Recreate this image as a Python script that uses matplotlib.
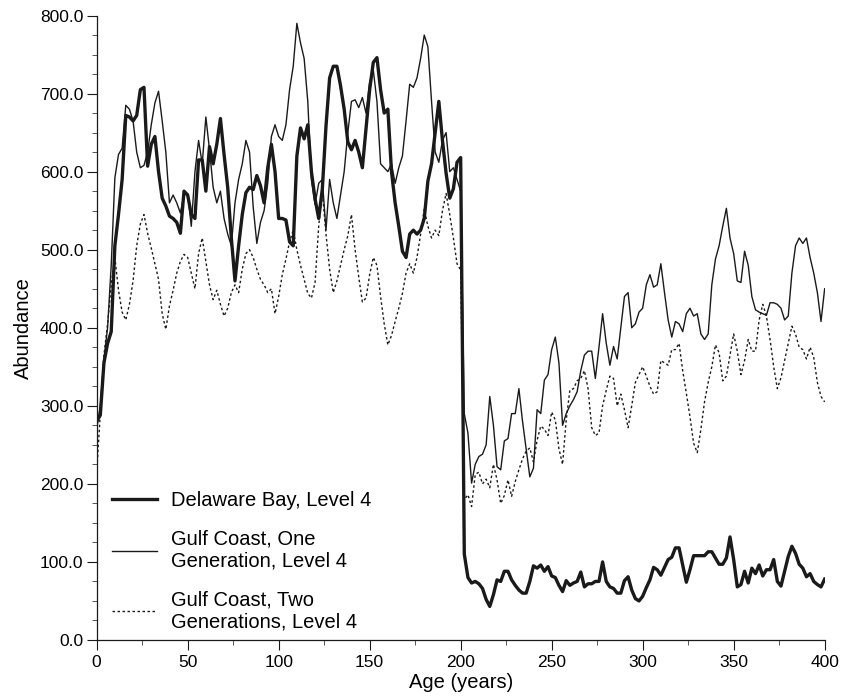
import numpy as np
import matplotlib.pyplot as plt
from matplotlib.ticker import MultipleLocator, FormatStrFormatter

plt.rcParams['font.family'] = ['Liberation Sans', 'DejaVu Sans']

# age in years, one reading every 2 years
age = np.arange(0, 401, 2)

# abundance
delaware_l4 = [
    280, 288, 355, 380, 395, 505, 545, 590, 672, 670, 665, 672, 705, 708, 607, 635, 645, 600, 566, 556, 543, 540, 535, 521, 575,
    570, 545, 540, 615, 615, 575, 632, 610, 635, 668, 622, 580, 515, 460, 505, 545, 573, 580, 577, 595, 582, 560, 605, 635, 600,
    540, 540, 538, 510, 505, 620, 656, 642, 660, 600, 565, 540, 578, 658, 720, 735, 735, 710, 680, 638, 628, 640, 625, 605, 655,
    705, 740, 746, 705, 675, 680, 600, 560, 530, 498, 490, 520, 525, 520, 525, 540, 588, 610, 650, 690, 640, 598, 566, 578, 612,
    618, 110, 80, 73, 75, 72, 66, 52, 43, 58, 77, 75, 88, 88, 77, 70, 64, 60, 60, 75, 95, 92, 96, 88, 94,
    82, 80, 70, 62, 76, 70, 73, 75, 87, 68, 72, 72, 75, 75, 100, 75, 68, 66, 60, 60, 76, 81, 64, 53, 50,
    56, 67, 77, 93, 90, 83, 93, 103, 106, 118, 118, 96, 74, 90, 108, 108, 108, 108, 113, 113, 105, 97, 97, 105, 132,
    103, 68, 71, 88, 73, 92, 85, 96, 82, 90, 90, 103, 75, 69, 88, 107, 120, 111, 97, 92, 81, 85, 75, 71, 68, 78,
]
gulf_one_gen_l4 = [
    270, 300, 360, 400, 480, 592, 622, 630, 685, 680, 665, 625, 605, 608, 625, 660, 688, 703, 665, 625, 560, 570, 560, 547, 570,
    572, 530, 600, 640, 610, 670, 628, 580, 560, 575, 540, 520, 505, 560, 590, 610, 640, 625, 555, 508, 535, 550, 585, 645, 660,
    645, 640, 660, 705, 735, 790, 765, 745, 690, 590, 558, 585, 590, 525, 590, 560, 540, 570, 600, 650, 690, 692, 682, 695, 675,
    715, 730, 690, 610, 605, 600, 610, 585, 605, 620, 665, 712, 708, 720, 745, 775, 760, 690, 625, 612, 640, 650, 600, 605, 590,
    575, 290, 265, 201, 225, 235, 238, 250, 312, 275, 222, 218, 255, 258, 290, 290, 322, 280, 245, 209, 220, 295, 290, 333, 340,
    372, 388, 355, 275, 290, 300, 308, 318, 345, 365, 370, 370, 335, 375, 418, 380, 352, 376, 360, 400, 440, 445, 400, 405, 420,
    425, 455, 468, 452, 455, 482, 445, 410, 388, 408, 405, 395, 418, 425, 415, 418, 392, 385, 392, 455, 488, 505, 530, 553, 515,
    495, 460, 458, 498, 480, 440, 423, 420, 418, 416, 432, 432, 430, 425, 410, 415, 470, 505, 515, 508, 515, 490, 470, 445, 408, 450,
]
gulf_two_gen_l4 = [
    215, 290, 365, 405, 455, 490, 448, 420, 410, 430, 460, 505, 533, 545, 521, 502, 482, 462, 418, 398, 428, 448, 470, 485, 494,
    490, 470, 450, 495, 515, 485, 455, 436, 448, 430, 415, 425, 445, 455, 445, 475, 495, 500, 490, 475, 462, 455, 445, 450, 418,
    440, 468, 488, 510, 525, 500, 480, 462, 444, 438, 458, 530, 575, 520, 475, 445, 460, 480, 500, 518, 545, 500, 465, 433, 438,
    468, 490, 480, 440, 405, 378, 390, 408, 425, 444, 470, 482, 470, 490, 520, 552, 530, 515, 525, 518, 550, 572, 545, 515, 482,
    474, 180, 186, 171, 212, 215, 200, 206, 195, 225, 205, 175, 185, 205, 184, 203, 218, 232, 242, 246, 228, 256, 274, 270, 262,
    292, 282, 245, 225, 282, 320, 322, 332, 335, 345, 322, 272, 262, 265, 300, 320, 338, 335, 300, 315, 295, 272, 300, 330, 340,
    350, 338, 325, 315, 318, 358, 355, 352, 372, 372, 380, 345, 316, 286, 252, 240, 270, 305, 330, 350, 378, 368, 332, 338, 365,
    392, 370, 340, 358, 385, 370, 370, 410, 430, 415, 385, 350, 322, 336, 358, 380, 402, 392, 375, 372, 360, 375, 362, 330, 312, 305,
]

labels = ['Delaware Bay, Level 4',
          'Gulf Coast, One\nGeneration, Level 4',
          'Gulf Coast, Two\nGenerations, Level 4']

ink = '#1a1a1a'

fig = plt.figure(figsize=(8.42, 6.96), dpi=100)
ax = fig.add_axes([0.1148, 0.0805, 0.8646, 0.8972])

h3, = ax.plot(age, gulf_two_gen_l4, color=ink, lw=1.0, ls=(0, (1.8, 1.8)), label=labels[2])
h2, = ax.plot(age, gulf_one_gen_l4, color=ink, lw=1.0, label=labels[1])
h1, = ax.plot(age, delaware_l4, color=ink, lw=2.4, label=labels[0])

ax.set_xlim(0, 400)
ax.set_ylim(0, 800)
ax.xaxis.set_major_locator(MultipleLocator(50))
ax.xaxis.set_minor_locator(MultipleLocator(25))
ax.yaxis.set_major_locator(MultipleLocator(100))
ax.yaxis.set_minor_locator(MultipleLocator(25))
ax.yaxis.set_major_formatter(FormatStrFormatter('%.1f'))

for s in ['top', 'right']:
    ax.spines[s].set_visible(False)
for s in ['left', 'bottom']:
    ax.spines[s].set_linewidth(0.9)
    ax.spines[s].set_color(ink)

ax.tick_params(which='major', length=7, width=0.8, color=ink, labelsize=12.5, pad=2.5)
ax.tick_params(which='minor', length=3.6, width=0.7, color='#555555')
ax.tick_params(axis='x', which='major', pad=4)

ax.set_xlabel('Age (years)', fontsize=14.5, labelpad=2)
ax.set_ylabel('Abundance', fontsize=14.5, labelpad=5)

ax.legend(handles=[h1, h2, h3], loc='upper left', bbox_to_anchor=(0.0206, 0.238),
          frameon=False, fontsize=14.5, handlelength=2.25, handletextpad=0.7,
          labelspacing=0.97, borderpad=0, borderaxespad=0)

fig.savefig('out.png', dpi=100)
